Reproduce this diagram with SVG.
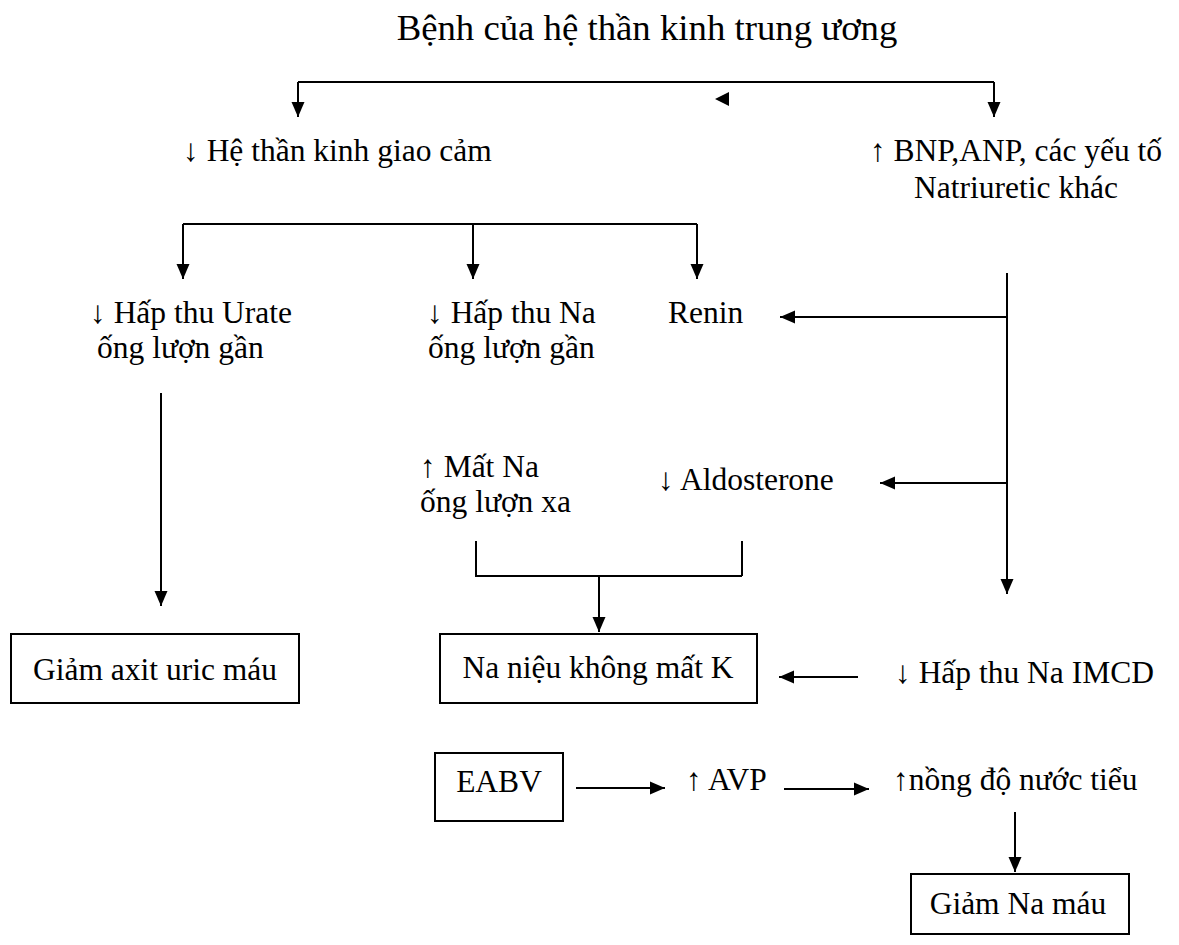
<svg xmlns="http://www.w3.org/2000/svg" width="1179" height="945" viewBox="0 0 1179 945">
<defs>
<marker id="ah" markerUnits="userSpaceOnUse" markerWidth="16" markerHeight="16" viewBox="0 0 16 16" refX="15" refY="8" orient="auto">
<path d="M0,1.5 L15,8 L0,14.5 Z" fill="#000"/>
</marker>
</defs>
<style>
text{font-family:"Liberation Serif","Times New Roman",serif;font-size:31.5px;fill:#000}
.title{font-size:36.75px}
.ln{fill:none;stroke:#000;stroke-width:2}
.box{fill:#fff;stroke:#000;stroke-width:2}
</style>
<rect width="1179" height="945" fill="#fff"/>
<g id="title"><text class="title" x="647" y="40" text-anchor="middle">Bệnh của hệ thần kinh trung ương</text></g>
<g id="connectors">
<path class="ln" d="M298,82 H994"/>
<path class="ln" d="M298,82 V117" marker-end="url(#ah)"/>
<path class="ln" d="M994,82 V117" marker-end="url(#ah)"/>
<path d="M715,99 L729,92 L729,106 Z" fill="#000"/>
<path class="ln" d="M183,224 H697"/>
<path class="ln" d="M183,224 V279" marker-end="url(#ah)"/>
<path class="ln" d="M473,224 V279" marker-end="url(#ah)"/>
<path class="ln" d="M697,224 V279" marker-end="url(#ah)"/>
<path class="ln" d="M1007,273 V594" marker-end="url(#ah)"/>
<path class="ln" d="M1007,317 H780" marker-end="url(#ah)"/>
<path class="ln" d="M1007,483 H880" marker-end="url(#ah)"/>
<path class="ln" d="M161,393 V606" marker-end="url(#ah)"/>
<path class="ln" d="M476,541 V576 H742 M742,541 V576"/>
<path class="ln" d="M599,576 V632" marker-end="url(#ah)"/>
<path class="ln" d="M858,677 H779" marker-end="url(#ah)"/>
<path class="ln" d="M576,788 H665" marker-end="url(#ah)"/>
<path class="ln" d="M784,789 H869" marker-end="url(#ah)"/>
<path class="ln" d="M1015,812 V872" marker-end="url(#ah)"/>
</g>
<g id="n-giaocam"><text x="183" y="161">↓ Hệ thần kinh giao cảm</text></g>
<g id="n-bnp"><text x="1016" y="161" text-anchor="middle">↑ BNP,ANP, các yếu tố</text><text x="1016" y="198" text-anchor="middle">Natriuretic khác</text></g>
<g id="n-urate"><text x="90" y="323">↓ Hấp thu Urate</text><text x="97" y="358">ống lượn gần</text></g>
<g id="n-hapthuna"><text x="427" y="323">↓ Hấp thu Na</text><text x="428" y="358">ống lượn gần</text></g>
<g id="n-renin"><text x="668" y="323">Renin</text></g>
<g id="n-matna"><text x="420" y="477">↑ Mất Na</text><text x="420" y="512">ống lượn xa</text></g>
<g id="n-aldo"><text x="658" y="490">↓ Aldosterone</text></g>
<g id="n-uric"><rect class="box" x="11" y="634" width="288" height="69"/><text x="155" y="680" text-anchor="middle">Giảm axit uric máu</text></g>
<g id="n-naniêu"><rect class="box" x="440" y="634" width="317" height="69"/><text x="598" y="678" text-anchor="middle">Na niệu không mất K</text></g>
<g id="n-imcd"><text x="895" y="683">↓ Hấp thu Na IMCD</text></g>
<g id="n-eabv"><rect class="box" x="435" y="753" width="128" height="68"/><text x="499" y="792" text-anchor="middle">EABV</text></g>
<g id="n-avp"><text x="686" y="790">↑ AVP</text></g>
<g id="n-nongdo"><text x="893" y="790">↑nồng độ nước tiểu</text></g>
<g id="n-giamna"><rect class="box" x="911" y="874" width="218" height="60"/><text x="1018" y="914" text-anchor="middle">Giảm Na máu</text></g>
</svg>
